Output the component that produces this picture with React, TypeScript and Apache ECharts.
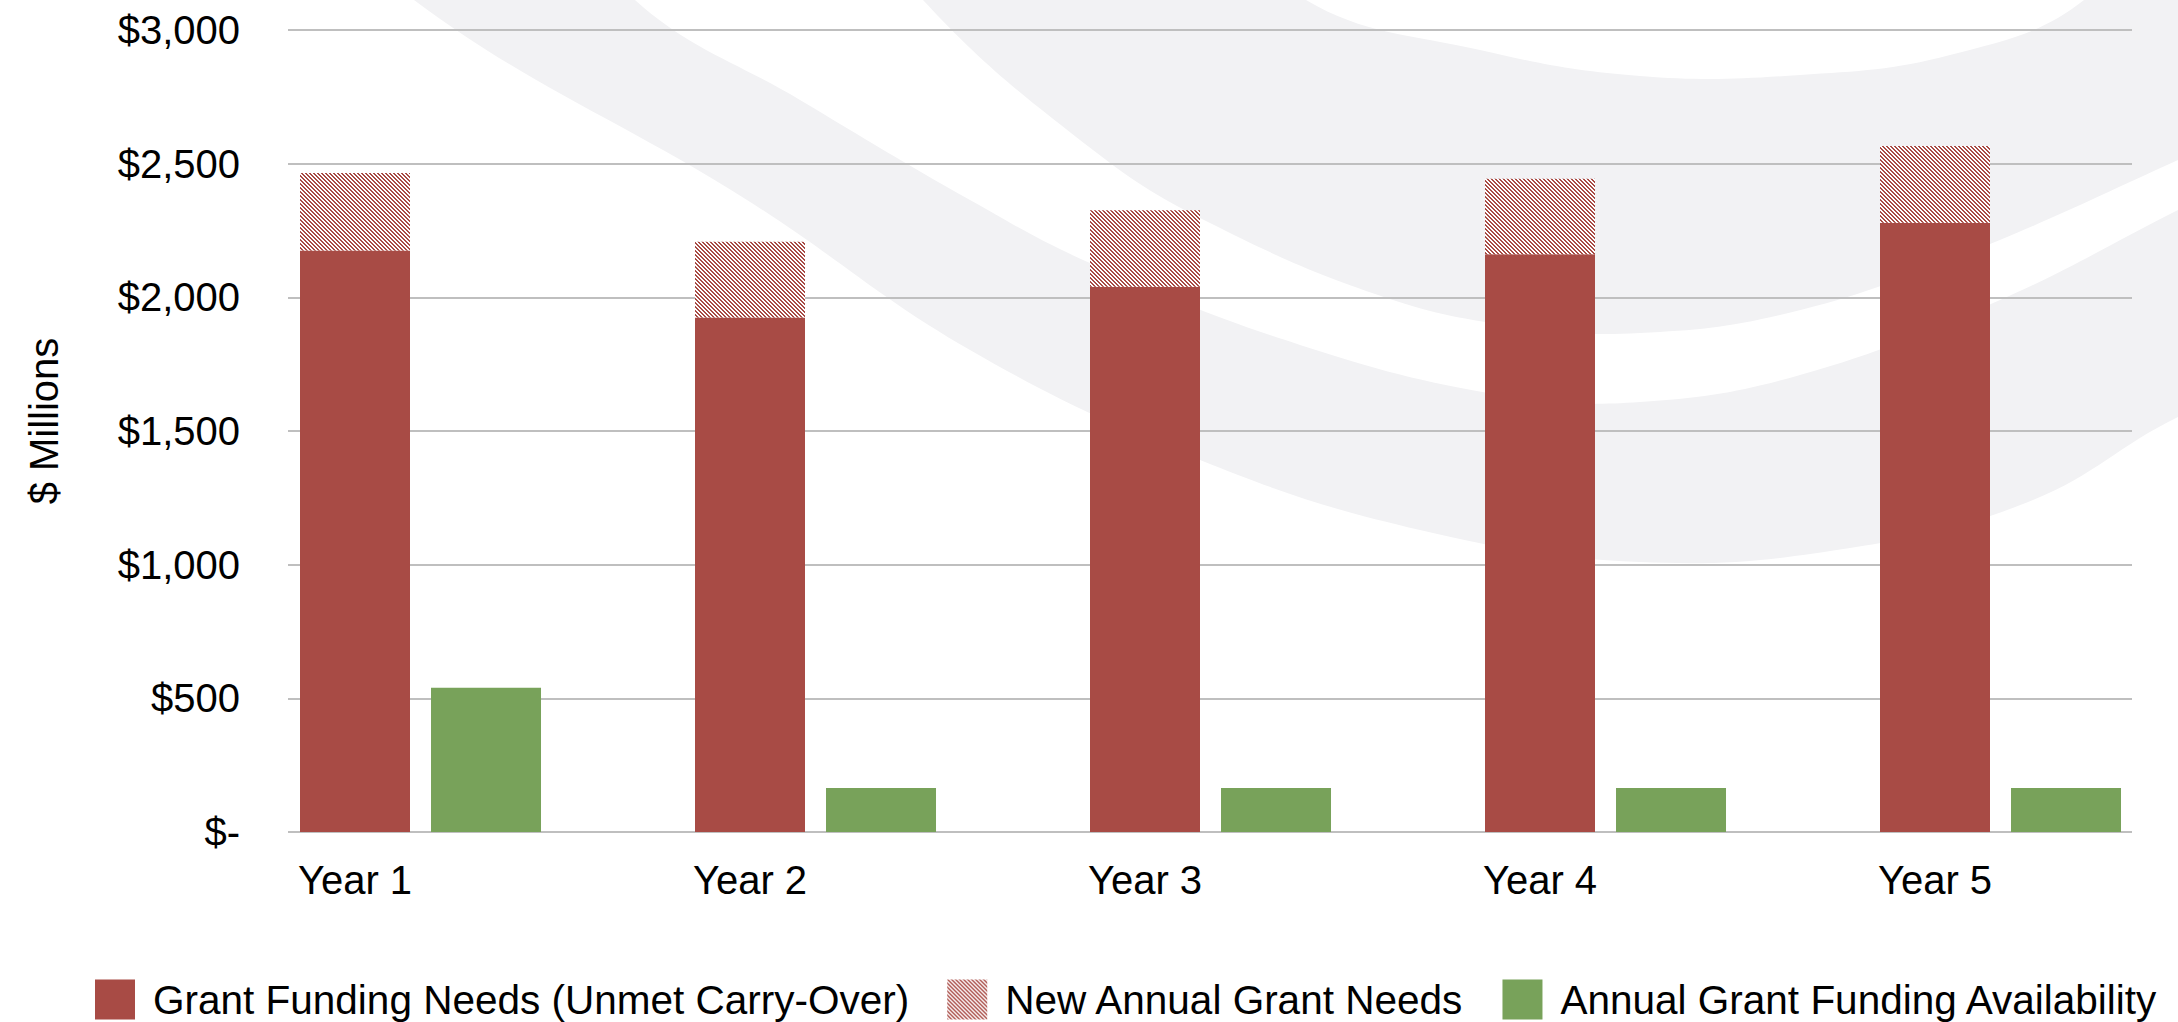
import React, { useEffect, useRef } from 'react';
import * as echarts from 'echarts';

// ---- data ----
const categories = ['Year 1', 'Year 2', 'Year 3', 'Year 4', 'Year 5'];
const carryOver = [2175, 1925, 2040, 2161, 2279];
const newAnnual = [290, 283, 286, 283, 287];
const availability = [540, 165, 165, 165, 165];
const yTicks = [0, 500, 1000, 1500, 2000, 2500, 3000];
const seriesNames = [
  'Grant Funding Needs (Unmet Carry-Over)',
  'New Annual Grant Needs',
  'Annual Grant Funding Availability',
];
const axisTitle = '$ Millions';

// ---- style ----
const RED = '#A84B45';
const GREEN = '#78A25A';
const WM = '#F2F2F4';
const FONT = '"Liberation Sans", Arial, sans-serif';

// decorative watermark outlines (background only)
const wmBand1 = [
  [600, -80], [635, 0], [800, 100], [970, 200], [1090, 263], [1300, 345], [1500, 395], [1640, 402],
  [1800, 375], [2000, 300], [2178, 210], [2280, 160], [2280, 380], [2178, 417], [2033, 500],
  [1850, 548], [1640, 562], [1420, 530], [1200, 460], [970, 350], [747, 200], [414, 0], [370, -80],
];
const wmBand2 = [
  [880, -80], [923, 0], [1093, 150], [1210, 223], [1393, 300], [1530, 328], [1640, 333], [1780, 315],
  [1950, 260], [2178, 160], [2280, 110], [2280, -80], [2120, -80], [2084, 0], [1950, 55], [1800, 75],
  [1640, 76], [1480, 50], [1306, 0], [1260, -80],
];

function makeHatch() {
  const c = document.createElement('canvas');
  c.width = 8;
  c.height = 8;
  const ctx = c.getContext('2d')!;
  ctx.fillStyle = '#ffffff';
  ctx.fillRect(0, 0, 8, 8);
  ctx.fillStyle = RED;
  for (let y = 0; y < 8; y++) {
    for (let x = 0; x < 8; x++) {
      if ((((x - y) % 4) + 4) % 4 < 2) ctx.fillRect(x, y, 1, 1);
    }
  }
  return c;
}

export default function App() {
  const ref = useRef<HTMLDivElement>(null);
  useEffect(() => {
    if (!ref.current) return;
    const chart = echarts.init(ref.current, null, { renderer: 'svg' });
    const hatch = { image: makeHatch(), repeat: 'repeat', imageWidth: 8, imageHeight: 8 } as any;
    const barW = 110;
    const gap = '19.1%';
    const option: any = {
      animation: false,
      backgroundColor: '#ffffff',
      graphic: [
        { type: 'polygon', z: -10, silent: true, shape: { points: wmBand1, smooth: 0.4 }, style: { fill: WM } },
        { type: 'polygon', z: -10, silent: true, shape: { points: wmBand2, smooth: 0.4 }, style: { fill: WM } },
        {
          type: 'text', x: 44, y: 421, rotation: Math.PI / 2, silent: true,
          style: { text: axisTitle, font: `40px ${FONT}`, fill: '#000', align: 'center', verticalAlign: 'middle' },
        },
      ],
      legend: {
        left: 95,
        top: 979,
        width: 2080,
        padding: 0,
        itemWidth: 40,
        itemHeight: 40,
        itemGap: 38,
        icon: 'rect',
        data: seriesNames,
        textStyle: { fontSize: 40.5, color: '#000', fontFamily: FONT, padding: [0, 0, 0, 13] },
      },
      grid: [
        { left: 288, right: 46, top: 30, bottom: 190 },
        { left: 157.5, right: 45.5, top: 30, bottom: 190 },
      ],
      xAxis: [
        { type: 'category', gridIndex: 0, data: categories, show: false },
        {
          type: 'category', gridIndex: 1, data: categories,
          axisLine: { show: false }, axisTick: { show: false },
          axisLabel: { fontSize: 40, color: '#000', fontFamily: FONT, margin: 28 },
        },
      ],
      yAxis: [
        {
          type: 'value', gridIndex: 0, min: yTicks[0], max: yTicks[yTicks.length - 1], interval: yTicks[1] - yTicks[0],
          axisLine: { show: false }, axisTick: { show: false },
          axisLabel: {
            fontSize: 40, color: '#000', fontFamily: FONT, margin: 48,
            formatter: (v: number) => (v === 0 ? '$-' : '$' + v.toLocaleString('en-US')),
          },
          splitLine: { lineStyle: { color: '#BFBFBF', width: 2 } },
        },
        {
          type: 'value', gridIndex: 1, min: yTicks[0], max: yTicks[yTicks.length - 1], interval: yTicks[1] - yTicks[0],
          show: false, splitLine: { show: false },
        },
      ],
      series: [
        {
          name: '_slot', type: 'bar', xAxisIndex: 1, yAxisIndex: 1, stack: 'slot',
          data: categories.map(() => '-'), barWidth: barW, barGap: gap, silent: true,
        },
        {
          name: seriesNames[0], type: 'bar', xAxisIndex: 1, yAxisIndex: 1, stack: 'need',
          data: carryOver, barWidth: barW, barGap: gap, itemStyle: { color: RED },
        },
        {
          name: seriesNames[1], type: 'bar', xAxisIndex: 1, yAxisIndex: 1, stack: 'need',
          data: newAnnual, barWidth: barW, barGap: gap, itemStyle: { color: hatch },
        },
        {
          name: seriesNames[2], type: 'bar', xAxisIndex: 1, yAxisIndex: 1,
          data: availability, barWidth: barW, barGap: gap, itemStyle: { color: GREEN },
        },
      ],
    };
    chart.setOption(option);
    return () => chart.dispose();
  }, []);
  return (
    <div
      ref={ref}
      style={{ position: 'fixed', left: 0, top: 0, width: 2178, height: 1022 }}
    />
  );
}
